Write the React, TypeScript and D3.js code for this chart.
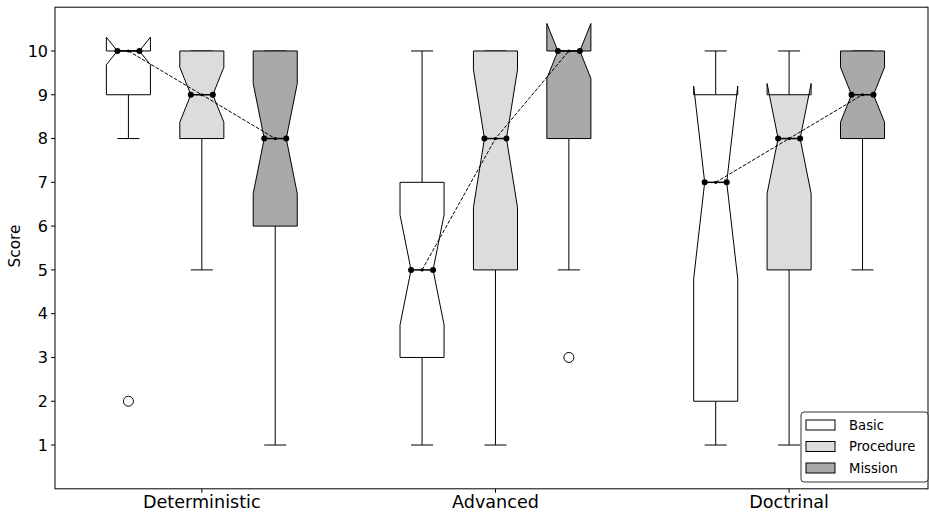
import React from "react";
import * as d3 from "d3";

const categories = ["Deterministic", "Advanced", "Doctrinal"];
const series = ["Basic", "Procedure", "Mission"];
const seriesColors = ["#ffffff", "#dcdcdc", "#a9a9a9"];

// per series, per category
const q1Values = [[9, 3, 2], [8, 5, 5], [6, 8, 8]];
const medianValues = [[10, 5, 7], [9, 8, 8], [8, 10, 9]];
const q3Values = [[10, 7, 9], [10, 10, 9], [10, 10, 10]];
const whiskerLow = [[8, 1, 1], [5, 1, 1], [1, 5, 5]];
const whiskerHigh = [[10, 10, 10], [10, 10, 10], [10, 10, 10]];
const outlierValues = [[[2], [], []], [[], [], []], [[], [3], []]];
const sampleSize = 25;

const yTicks = [1, 2, 3, 4, 5, 6, 7, 8, 9, 10];

const W = 929;
const H = 512;
const left = 55, right = 928, top = 7.2, bottom = 488.8;
const offsets = [-0.25, 0, 0.25];
const boxW = 0.15;

export default function App() {
  const x = d3.scaleLinear().domain([-0.5, 2.473]).range([left, right]);
  const y = d3.scaleLinear().domain([0, 11]).range([bottom, top]);
  const font = "DejaVu Sans, sans-serif";
  const bw = x(boxW) - x(0);

  const boxes: any[] = [];
  series.forEach((s, si) => {
    categories.forEach((c, ci) => {
      const pos = ci + offsets[si];
      const cx = x(pos);
      const L = cx - bw / 2, R = cx + bw / 2;
      const cL = cx - bw / 4, cR = cx + bw / 4;
      const q1 = q1Values[si][ci], q3 = q3Values[si][ci], med = medianValues[si][ci];
      const half = (1.57 * (q3 - q1)) / Math.sqrt(sampleSize);
      const lo = med - half, hi = med + half;
      const pts: [number, number][] = [
        [L, q1], [R, q1], [R, lo], [cR, med], [R, hi], [R, q3],
        [L, q3], [L, hi], [cL, med], [L, lo], [L, q1],
      ].map(([px, v]) => [px, y(v)] as [number, number]);
      const path = d3.line()(pts) + "Z";
      const capL = cx - bw / 4, capR = cx + bw / 4;
      boxes.push(
        <g key={`${si}-${ci}`}>
          <line x1={cx} x2={cx} y1={y(q1)} y2={y(whiskerLow[si][ci])} stroke="#000" strokeWidth={1} />
          <line x1={cx} x2={cx} y1={y(q3)} y2={y(whiskerHigh[si][ci])} stroke="#000" strokeWidth={1} />
          <line x1={capL} x2={capR} y1={y(whiskerLow[si][ci])} y2={y(whiskerLow[si][ci])} stroke="#000" strokeWidth={1} />
          <line x1={capL} x2={capR} y1={y(whiskerHigh[si][ci])} y2={y(whiskerHigh[si][ci])} stroke="#000" strokeWidth={1} />
          <path d={path} fill={seriesColors[si]} stroke="#000" strokeWidth={1} />
          <line x1={cL} x2={cR} y1={y(med)} y2={y(med)} stroke="#000" strokeWidth={1.5} />
          <circle cx={cL} cy={y(med)} r={3} fill="#000" />
          <circle cx={cR} cy={y(med)} r={3} fill="#000" />
          {outlierValues[si][ci].map((o, oi) => (
            <circle key={oi} cx={cx} cy={y(o)} r={5} fill="none" stroke="#000" strokeWidth={1} />
          ))}
        </g>
      );
    });
  });

  const trendLines = categories.map((c, ci) => {
    const pts = series.map((s, si) => [x(ci + offsets[si]), y(medianValues[si][ci])] as [number, number]);
    return (
      <g key={c}>
        <path d={d3.line()(pts) || ""} fill="none" stroke="#000" strokeWidth={1} strokeDasharray="3.7,1.6" />
        {pts.map((p, i) => (
          <circle key={i} cx={p[0]} cy={p[1]} r={1.6} fill="#000" />
        ))}
      </g>
    );
  });

  const lgX = 801, lgY = 412, lgW = 127, lgH = 70;

  return (
    <svg width={W} height={H} style={{ position: "absolute", left: 0, top: 0, background: "#fff" }} fontFamily={font}>
      <rect x={0} y={0} width={W} height={H} fill="#fff" />
      {boxes}
      {trendLines}
      {/* frame */}
      <rect x={left} y={top} width={right - left} height={bottom - top} fill="none" stroke="#000" strokeWidth={1} />
      {yTicks.map((t) => (
        <g key={t}>
          <line x1={left - 4} x2={left} y1={y(t)} y2={y(t)} stroke="#000" />
          <text x={left - 7} y={y(t)} dy="0.36em" textAnchor="end" fontSize={16} fill="#000">{t}</text>
        </g>
      ))}
      {categories.map((c, ci) => (
        <g key={c}>
          <line x1={x(ci)} x2={x(ci)} y1={bottom} y2={bottom + 4} stroke="#000" />
          <text x={x(ci)} y={bottom + 19.5} textAnchor="middle" fontSize={17.6} fill="#000">{c}</text>
        </g>
      ))}
      <text transform={`translate(20,246) rotate(-90)`} textAnchor="middle" fontSize={15.3} fill="#000">Score</text>
      {/* legend */}
      <rect x={lgX} y={lgY} width={lgW} height={lgH} rx={3} fill="#fff" fillOpacity={0.85} stroke="#333" strokeWidth={1} />
      {series.map((s, si) => (
        <g key={s}>
          <rect x={lgX + 5} y={lgY + 8 + si * 21.5} width={29} height={10} fill={seriesColors[si]} stroke="#000" strokeWidth={1} />
          <text x={lgX + 48} y={lgY + 13 + si * 21.5} dy="0.36em" fontSize={13.2} fill="#000">{s}</text>
        </g>
      ))}
    </svg>
  );
}
